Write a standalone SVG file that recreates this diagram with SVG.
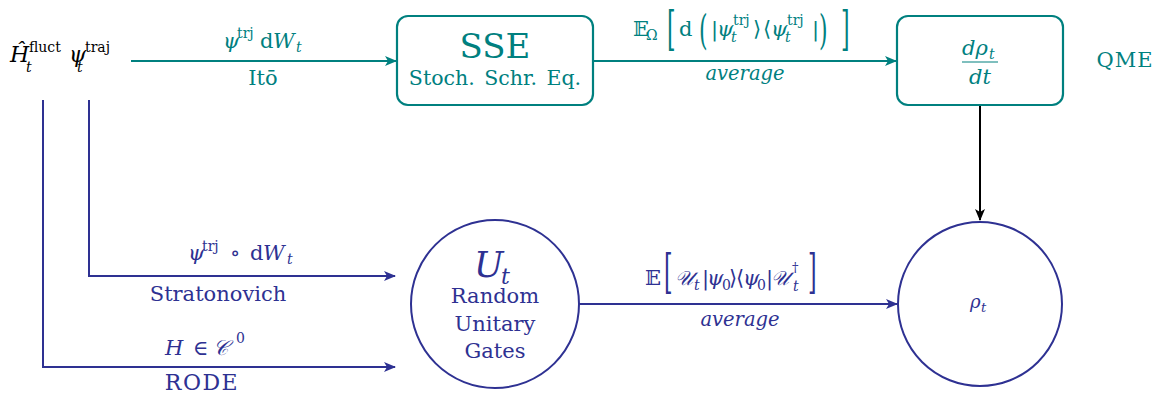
<svg xmlns="http://www.w3.org/2000/svg" width="1158" height="393" viewBox="0 0 1158 393">
<defs>
<marker id="aT" viewBox="0 0 12 10" refX="11" refY="5" markerWidth="12" markerHeight="10" markerUnits="userSpaceOnUse" orient="auto"><path d="M0,0 L12,5 L0,10 L3,5 Z" fill="#00807f"/></marker>
<marker id="aB" viewBox="0 0 12 10" refX="11" refY="5" markerWidth="12" markerHeight="10" markerUnits="userSpaceOnUse" orient="auto"><path d="M0,0 L12,5 L0,10 L3,5 Z" fill="#2e3192"/></marker>
<marker id="aK" viewBox="0 0 12 10" refX="11" refY="5" markerWidth="12" markerHeight="10" markerUnits="userSpaceOnUse" orient="auto"><path d="M0,0 L12,5 L0,10 L3,5 Z" fill="#000"/></marker>
</defs>
<style>
text{font-family:"DejaVu Serif","Liberation Serif",serif;text-anchor:middle}
.s{text-anchor:start}
.t{fill:#00807f}
.b{fill:#2e3192}
.k{fill:#000}
.i{font-style:italic}
.br{font-size:22px;font-weight:300}
.lt{stroke:#00807f;stroke-width:2.2;fill:none}
.lb{stroke:#2e3192;stroke-width:2;fill:none}
.lk{stroke:#000;stroke-width:2;fill:none}
</style>
<rect width="1158" height="393" fill="#fff"/>
<g id="connectors">
<line class="lt" x1="131" y1="61" x2="396" y2="61" marker-end="url(#aT)"/>
<line class="lt" x1="593" y1="61" x2="896" y2="61" marker-end="url(#aT)"/>
<line class="lk" x1="980" y1="105" x2="980" y2="220" marker-end="url(#aK)"/>
<polyline class="lb" points="89,100 89,276 395,276" marker-end="url(#aB)"/>
<polyline class="lb" points="43,100 43,367 395,367" marker-end="url(#aB)"/>
<line class="lb" x1="579" y1="304" x2="897" y2="304" marker-end="url(#aB)"/>
<text class="t s" font-size="21"><tspan class="i" x="223" y="48">ψ</tspan><tspan font-size="14" x="237" y="38">trj</tspan><tspan x="260" y="48">d</tspan><tspan class="i" x="273" y="48">W</tspan><tspan class="i" font-size="14" x="296" y="52">t</tspan></text>
<text class="t" x="263" y="85" font-size="21">Itō</text>
<text class="t s" font-size="21"><tspan x="633" y="36">𝔼</tspan><tspan font-size="14" x="646" y="40">Ω</tspan><tspan x="679" y="36">d</tspan><tspan x="711" y="36">|</tspan><tspan class="i" x="717" y="36">ψ</tspan><tspan font-size="14" x="733" y="25">trj</tspan><tspan class="i" font-size="14" x="731" y="42">t</tspan><tspan x="753" y="36">⟩</tspan><tspan x="763" y="36">⟨</tspan><tspan class="i" x="771" y="36">ψ</tspan><tspan font-size="14" x="787" y="25">trj</tspan><tspan class="i" font-size="14" x="785" y="42">t</tspan><tspan x="812" y="36">|</tspan></text>
<text class="t s br" transform="translate(667,45) scale(1,2.1)">[</text>
<text class="t s br" transform="translate(699,44) scale(1,1.9)">(</text>
<text class="t s br" transform="translate(819,44) scale(1,1.9)">)</text>
<text class="t s br" transform="translate(841,45) scale(1,2.1)">]</text>
<text class="t i" x="745" y="80" font-size="19.5">average</text>
<text class="b s" font-size="21"><tspan class="i" x="188" y="260">ψ</tspan><tspan font-size="14" x="202" y="251">trj</tspan><tspan x="230" y="260">∘</tspan><tspan x="250" y="260">d</tspan><tspan class="i" x="263" y="260">W</tspan><tspan class="i" font-size="14" x="287" y="264">t</tspan></text>
<text class="b" x="218" y="301" font-size="21">Stratonovich</text>
<text class="b s" font-size="21"><tspan class="i" x="165" y="355">H</tspan><tspan x="193" y="355">∈</tspan><tspan class="i" x="213" y="355">𝒞</tspan><tspan font-size="14" x="236" y="343">0</tspan></text>
<text class="b" x="202" y="390" font-size="22" letter-spacing="1.5">RODE</text>
<text class="b s" font-size="21"><tspan x="645" y="285">𝔼</tspan><tspan class="i" font-size="20" x="675" y="285">𝒰</tspan><tspan class="i" font-size="14" x="694" y="290">t</tspan><tspan x="702" y="285">|</tspan><tspan class="i" x="707" y="285">ψ</tspan><tspan font-size="14" x="722" y="290">0</tspan><tspan x="729" y="285">⟩</tspan><tspan x="736" y="285">⟨</tspan><tspan class="i" x="743" y="285">ψ</tspan><tspan font-size="14" x="757" y="290">0</tspan><tspan x="766" y="285">|</tspan><tspan class="i" font-size="20" x="771" y="285">𝒰</tspan><tspan font-size="13" x="792" y="272">†</tspan><tspan class="i" font-size="14" x="793" y="291">t</tspan></text>
<text class="b s br" transform="translate(664,288) scale(1,2.1)">[</text>
<text class="b s br" transform="translate(808,288) scale(1,2.1)">]</text>
<text class="b i" x="740" y="326" font-size="19.5">average</text>
</g>
<g id="source">
<text class="k s" font-size="22"><tspan class="i" x="10" y="62">Ĥ</tspan><tspan class="i" font-size="14" x="26" y="72">t</tspan><tspan font-size="14" x="29" y="52">fluct</tspan><tspan class="i" x="69" y="62">ψ</tspan><tspan class="i" font-size="14" x="77" y="72">t</tspan><tspan font-size="14" x="85" y="52">traj</tspan></text>
</g>
<g id="sse">
<rect x="397" y="16" width="196" height="89" rx="11" fill="#fff" stroke="#00807f" stroke-width="2.2"/>
<text class="t" x="495" y="58" font-size="34">SSE</text>
<text class="t" x="495" y="85" font-size="20.5" word-spacing="3">Stoch. Schr. Eq.</text>
</g>
<g id="qme-box">
<rect x="897" y="16" width="166" height="89" rx="11" fill="#fff" stroke="#00807f" stroke-width="2.2"/>
<text class="t i s" font-size="21"><tspan x="962" y="55">dρ</tspan><tspan font-size="14" x="989" y="59">t</tspan></text>
<line x1="962" y1="62" x2="998" y2="62" stroke="#00807f" stroke-width="1.2"/>
<text class="t i" x="980" y="84" font-size="21">dt</text>
</g>
<g id="qme-label">
<text class="t" x="1125" y="67" font-size="21" letter-spacing="1">QME</text>
</g>
<g id="unitary">
<circle cx="495" cy="304" r="84" fill="#fff" stroke="#2e3192" stroke-width="2"/>
<text class="b i s" font-size="35"><tspan x="474" y="277">U</tspan><tspan font-size="22" x="501" y="284">t</tspan></text>
<text class="b" x="495" y="303" font-size="21">Random</text>
<text class="b" x="495" y="331" font-size="21">Unitary</text>
<text class="b" x="495" y="358" font-size="21">Gates</text>
</g>
<g id="rho">
<circle cx="980" cy="304" r="82" fill="#fff" stroke="#2e3192" stroke-width="2"/>
<text class="b i s" font-size="18"><tspan x="970" y="308">ρ</tspan><tspan font-size="13" x="981" y="312">t</tspan></text>
</g>
</svg>
